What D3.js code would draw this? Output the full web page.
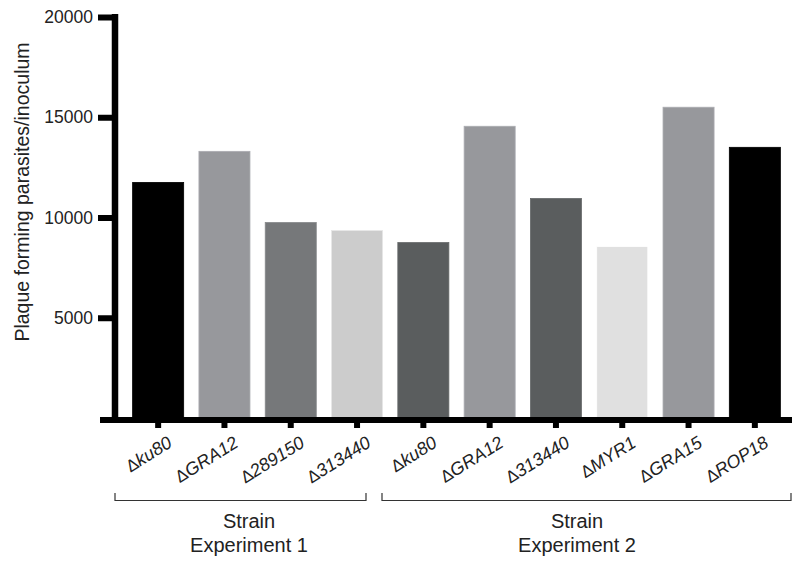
<!DOCTYPE html>
<html>
<head>
<meta charset="utf-8">
<script src="https://cdn.jsdelivr.net/npm/d3@7"></script>
<style>
  html, body { margin: 0; padding: 0; background: #fff; }
  svg { display: block; font-family: Arial, "Liberation Sans", Helvetica, sans-serif; }
</style>
</head>
<body>
<svg id="chart" width="792" height="561"></svg>
<script>
// Strains tested in each experiment (mutant names, Δ = deletion)
const strains = ["ku80", "GRA12", "289150", "313440", "ku80", "GRA12", "313440", "MYR1", "GRA15", "ROP18"];
const experiment = [1, 1, 1, 1, 2, 2, 2, 2, 2, 2];
// Plaque forming parasites per inoculum
const values = [11750, 13300, 9750, 9350, 8750, 14550, 10950, 8550, 15500, 13500];
const barColors = ["#000000", "#97989c", "#76787a", "#cccccc", "#5a5d5e", "#97989c", "#5a5d5e", "#e0e0e0", "#97989c", "#000000"];
const yTicks = [5000, 10000, 15000, 20000];
const groups = [
  { label: ["Strain", "Experiment 1"], x0: 115, x1: 366, cx: 249 },
  { label: ["Strain", "Experiment 2"], x0: 382, x1: 791, cx: 577 }
];

const svg = d3.select("#chart");
const idx = d3.range(strains.length);

const x = d3.scaleBand().domain(idx).range([125, 788]).paddingInner(0.23).paddingOuter(0.115);
const y = d3.scaleLinear().domain([0, 20000]).range([418, 17]);

// Bars
svg.append("g").selectAll("rect").data(idx).join("rect")
  .attr("x", i => x(i))
  .attr("width", x.bandwidth())
  .attr("y", i => y(values[i]))
  .attr("height", i => y(0) - y(values[i]))
  .attr("fill", i => barColors[i])
  .attr("stroke", i => d3.color(barColors[i]).brighter(0.35))
  .attr("stroke-width", 0.8);

// Y axis
const yAxis = svg.append("g").attr("transform", "translate(115,0)")
  .call(d3.axisLeft(y).tickValues(yTicks).tickSize(16).tickPadding(6).tickSizeOuter(0).tickFormat(d3.format("d")));
yAxis.select(".domain").remove();
yAxis.append("line").attr("x1", 0).attr("x2", 0).attr("y1", y(20000) - 3).attr("y2", y(0))
  .attr("stroke", "#000").attr("stroke-width", 6.5);
yAxis.selectAll(".tick line").attr("stroke", "#000").attr("stroke-width", 6).attr("x2", -17);
yAxis.selectAll(".tick text").attr("font-size", 17.5).attr("fill", "#222").attr("font-family", "Arial, 'Liberation Sans', sans-serif");

// X axis baseline and ticks
svg.append("line").attr("x1", 100).attr("x2", 792).attr("y1", 420).attr("y2", 420)
  .attr("stroke", "#000").attr("stroke-width", 6);
const xAxis = svg.append("g").attr("transform", "translate(0,420)")
  .call(d3.axisBottom(x).tickSize(8).tickSizeOuter(0).tickFormat(""));
xAxis.select(".domain").remove();
xAxis.selectAll(".tick line").attr("stroke", "#000").attr("stroke-width", 6);

// Rotated strain labels
const lbl = svg.append("g").selectAll("text").data(idx).join("text")
  .attr("transform", i => `translate(${x(i) + x.bandwidth() / 2 + 15},446) rotate(-32)`)
  .attr("text-anchor", "end")
  .attr("font-size", 18)
  .attr("fill", "#222");
lbl.append("tspan").text("\u0394").attr("font-size", 17);
lbl.append("tspan").text(i => strains[i]).attr("font-style", "italic");

// Experiment brackets and group labels
const g = svg.append("g").selectAll("g").data(groups).join("g");
g.append("path")
  .attr("d", d => `M${d.x0},493V500.5H${d.x1}V493`)
  .attr("fill", "none").attr("stroke", "#333").attr("stroke-width", 1.2);
g.append("text").attr("x", d => d.cx).attr("y", 528).attr("text-anchor", "middle")
  .attr("font-size", 20).attr("fill", "#222").text(d => d.label[0]);
g.append("text").attr("x", d => d.cx).attr("y", 552).attr("text-anchor", "middle")
  .attr("font-size", 20).attr("fill", "#222").text(d => d.label[1]);

// Y axis title
svg.append("text")
  .attr("transform", "translate(29,192) rotate(-90)")
  .attr("text-anchor", "middle")
  .attr("font-size", 19.5)
  .attr("fill", "#222")
  .text("Plaque forming parasites/inoculum");
</script>
</body>
</html>
